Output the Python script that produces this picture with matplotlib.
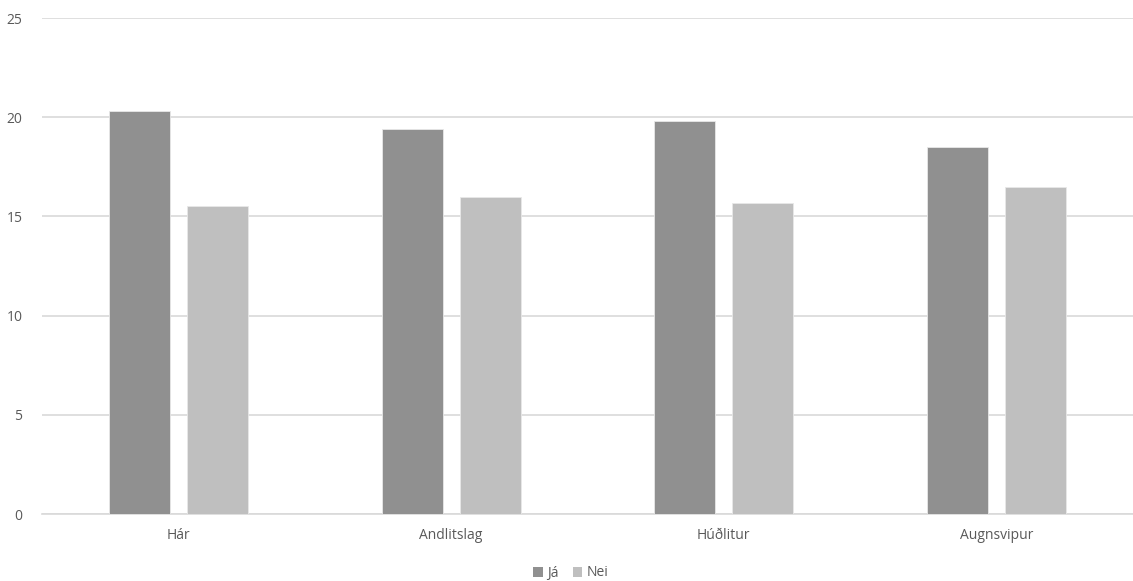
import matplotlib
matplotlib.use("Agg")
import matplotlib.pyplot as plt
import numpy as np
from matplotlib.patches import Patch

categories = ["Hár", "Andlitslag", "Húðlitur", "Augnsvipur"]
ja = [20.3, 19.4, 19.8, 18.5]
nei = [15.5, 16.0, 15.7, 16.5]
series_names = ["Já", "Nei"]
colors = ["#909090", "#bfbfbf"]

plt.rcParams['font.family'] = ['Open Sans', 'DejaVu Sans']

fig = plt.figure(figsize=(11.33, 5.81), dpi=100)
ax = fig.add_axes([42/1133, 1-514/581, 1-42/1133, (514-18)/581])

x = np.arange(len(categories))
w = 0.2234
off = 0.143
ax.bar(x - off, ja, width=w, color=colors[0], edgecolor="#e8e8e8", linewidth=0.6, zorder=3)
ax.bar(x + off, nei, width=w, color=colors[1], edgecolor="#e8e8e8", linewidth=0.6, zorder=3)

ax.set_xlim(-0.5, len(categories) - 0.5)
ax.set_ylim(0, 25)
ax.set_yticks([0, 5, 10, 15, 20, 25])
ax.set_xticks(x)
ax.set_xticklabels(categories)
ax.yaxis.grid(True, color="#d9d9d9", linewidth=1.2, zorder=0)
for s in ["top", "right", "left"]:
    ax.spines[s].set_visible(False)
ax.spines["bottom"].set_color("#d9d9d9")
ax.spines["bottom"].set_linewidth(1.2)
ax.tick_params(axis="both", length=0, labelsize=10, labelcolor="#595959")
ax.tick_params(axis="y", pad=14)
ax.tick_params(axis="x", pad=10)

handles = [Patch(facecolor=c, edgecolor="none") for c in colors]
fig.legend(handles, series_names, loc="center", bbox_to_anchor=(571/1133, 1-573/581),
           ncol=2, frameon=False, fontsize=10, handlelength=0.7, handleheight=0.7,
           handletextpad=0.3, columnspacing=1.0, labelcolor="#595959")

fig.savefig("out.png", dpi=100)
